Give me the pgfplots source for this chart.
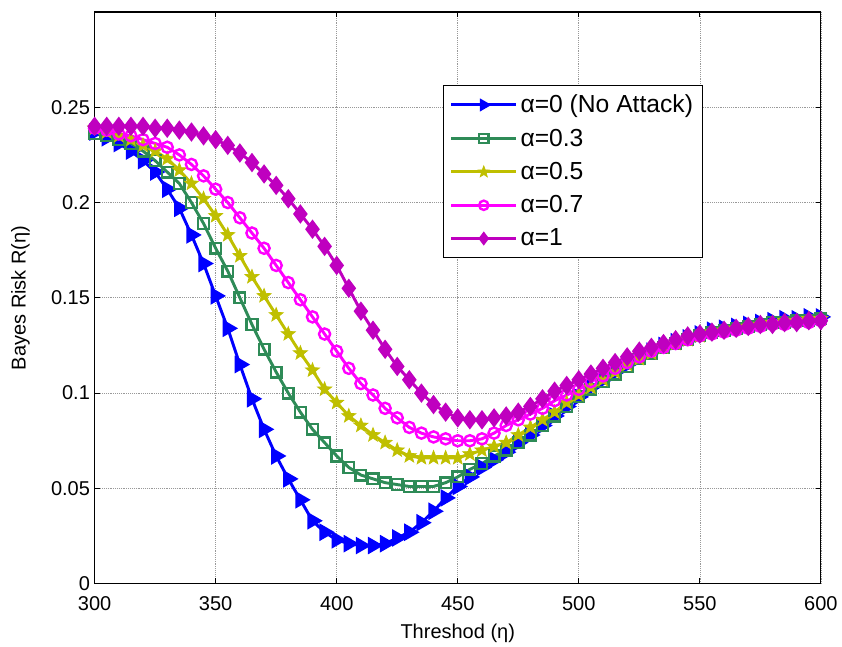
\documentclass[border=0pt]{standalone}
\usepackage{pgfplots}
\pgfplotsset{compat=1.18}
\usepackage{pgfplotstable}
\usepackage{fontspec}
\setmainfont{Liberation Sans}
\definecolor{cblue}{RGB}{0,0,255}
\definecolor{cgreen}{RGB}{46,139,87}
\definecolor{cyellow}{RGB}{191,191,0}
\definecolor{cpink}{RGB}{255,0,255}
\definecolor{cpurple}{RGB}{191,0,191}
\pgfdeclareplotmark{fstar}{%
  \pgfpathmoveto{\pgfpointpolar{90}{1.3\pgfplotmarksize}}%
  \pgfpathlineto{\pgfpointpolar{126}{0.55\pgfplotmarksize}}%
  \pgfpathlineto{\pgfpointpolar{162}{1.3\pgfplotmarksize}}%
  \pgfpathlineto{\pgfpointpolar{198}{0.55\pgfplotmarksize}}%
  \pgfpathlineto{\pgfpointpolar{234}{1.3\pgfplotmarksize}}%
  \pgfpathlineto{\pgfpointpolar{270}{0.55\pgfplotmarksize}}%
  \pgfpathlineto{\pgfpointpolar{306}{1.3\pgfplotmarksize}}%
  \pgfpathlineto{\pgfpointpolar{342}{0.55\pgfplotmarksize}}%
  \pgfpathlineto{\pgfpointpolar{18}{1.3\pgfplotmarksize}}%
  \pgfpathlineto{\pgfpointpolar{54}{0.55\pgfplotmarksize}}%
  \pgfpathclose
  \pgfusepathqfillstroke
}
\pgfplotstableread{
x a0 a3 a5 a7 a10
300 0.237 0.236 0.239 0.239 0.240
305 0.234 0.235 0.237 0.238 0.240
310 0.231 0.233 0.235 0.236 0.240
315 0.227 0.231 0.233 0.235 0.240
320 0.222 0.227 0.230 0.233 0.240
325 0.216 0.222 0.227 0.231 0.239
330 0.207 0.216 0.223 0.229 0.239
335 0.197 0.210 0.217 0.225 0.238
340 0.183 0.200 0.210 0.220 0.237
345 0.168 0.189 0.202 0.214 0.235
350 0.151 0.176 0.193 0.207 0.233
355 0.134 0.164 0.183 0.200 0.230
360 0.115 0.150 0.172 0.192 0.226
365 0.097 0.136 0.161 0.184 0.221
370 0.081 0.123 0.151 0.176 0.215
375 0.067 0.111 0.141 0.167 0.209
380 0.055 0.100 0.131 0.158 0.202
385 0.044 0.090 0.121 0.149 0.194
390 0.033 0.081 0.112 0.140 0.186
395 0.027 0.074 0.102 0.131 0.177
400 0.023 0.067 0.095 0.122 0.167
405 0.021 0.061 0.088 0.113 0.155
410 0.020 0.057 0.083 0.105 0.143
415 0.020 0.055 0.078 0.099 0.133
420 0.021 0.053 0.074 0.092 0.123
425 0.024 0.052 0.070 0.087 0.114
430 0.027 0.051 0.067 0.082 0.107
435 0.032 0.051 0.066 0.079 0.100
440 0.038 0.051 0.066 0.077 0.094
445 0.045 0.053 0.066 0.076 0.090
450 0.051 0.056 0.066 0.075 0.087
455 0.056 0.060 0.068 0.075 0.086
460 0.061 0.063 0.070 0.076 0.086
465 0.065 0.067 0.072 0.079 0.087
470 0.069 0.070 0.074 0.083 0.088
475 0.074 0.074 0.078 0.086 0.090
480 0.078 0.078 0.082 0.089 0.093
485 0.083 0.083 0.086 0.092 0.097
490 0.088 0.088 0.090 0.096 0.101
495 0.093 0.093 0.095 0.099 0.104
500 0.098 0.098 0.099 0.102 0.107
505 0.103 0.102 0.103 0.106 0.110
510 0.107 0.106 0.107 0.109 0.113
515 0.111 0.110 0.111 0.113 0.116
520 0.115 0.114 0.115 0.116 0.119
525 0.119 0.118 0.118 0.119 0.122
530 0.122 0.121 0.121 0.122 0.124
535 0.125 0.124 0.124 0.124 0.126
540 0.127 0.126 0.126 0.126 0.128
545 0.129 0.128 0.128 0.128 0.130
550 0.131 0.130 0.130 0.130 0.131
555 0.133 0.132 0.132 0.131 0.132
560 0.134 0.133 0.133 0.132 0.133
565 0.135 0.134 0.134 0.133 0.134
570 0.136 0.135 0.135 0.134 0.135
575 0.137 0.136 0.136 0.135 0.136
580 0.138 0.137 0.137 0.136 0.136
585 0.139 0.137 0.138 0.136 0.137
590 0.139 0.138 0.138 0.137 0.137
595 0.140 0.138 0.139 0.137 0.138
600 0.140 0.139 0.139 0.138 0.138
}\datatable
\begin{document}
\begin{tikzpicture}
\begin{axis}[
  name=main,
  scale only axis,
  width=545pt, height=429pt,
  xmin=300, xmax=600, ymin=0, ymax=0.3,
  xtick={300,350,...,600},
  ytick={0,0.05,0.1,0.15,0.2,0.25},
  yticklabel style={/pgf/number format/fixed,/pgf/number format/precision=2},
  xticklabel style={yshift=-6pt},
  /pgf/number format/assume math mode=true,
  tick align=inside,
  major tick length=4pt,
  tick style={black, line width=0.6pt},
  axis line style={black, line width=0.8pt},
  grid=major,
  grid style={densely dotted, gray!80, line width=0.5pt},
  font=\fontsize{15}{18}\selectfont,
  xlabel={Threshod (η)},
  ylabel={Bayes Risk R(η)},
  xlabel style={yshift=-3pt},
  ylabel style={yshift=9pt},
  legend style={at={(rel axis cs:0.479,0.872)}, anchor=north west,
    draw=black, line width=0.8pt, fill=white,
    font=\fontsize{18.5}{21.5}\selectfont, row sep=6.6pt, inner sep=5pt,
    cells={anchor=west}},
  legend image code/.code={%
    \draw[mark repeat=2,mark phase=2, mark size=3.5pt] plot coordinates {(0cm,0cm) (0.86cm,0cm) (1.72cm,0cm)};},
  every axis plot/.append style={line width=2.2pt},
]
\addplot[cblue, mark=triangle*, mark size=5.5pt, mark options={rotate=-90, solid}] table[x=x,y=a0] {\datatable};
\addlegendentry{α=0 (No Attack)}
\addplot[cgreen, mark=square, mark size=4pt, mark options={solid, line width=1.8pt}] table[x=x,y=a3] {\datatable};
\addlegendentry{α=0.3}
\addplot[cyellow, mark=fstar, mark size=4.3pt, mark options={solid, line width=0.5pt}] table[x=x,y=a5] {\datatable};
\addlegendentry{α=0.5}
\addplot[cpink, mark=o, mark size=4.2pt, mark options={solid, line width=1.8pt}] table[x=x,y=a7] {\datatable};
\addlegendentry{α=0.7}
\addplot[cpurple, mark=diamond*, mark size=5.5pt, mark options={solid}] table[x=x,y=a10] {\datatable};
\addlegendentry{α=1}
\end{axis}
\path (main.south west) ++(-71pt,-47.5pt) coordinate (bl);
\path (main.north east) ++(15pt,9pt) coordinate (tr);
\path (bl) rectangle (tr);
\end{tikzpicture}
\end{document}
